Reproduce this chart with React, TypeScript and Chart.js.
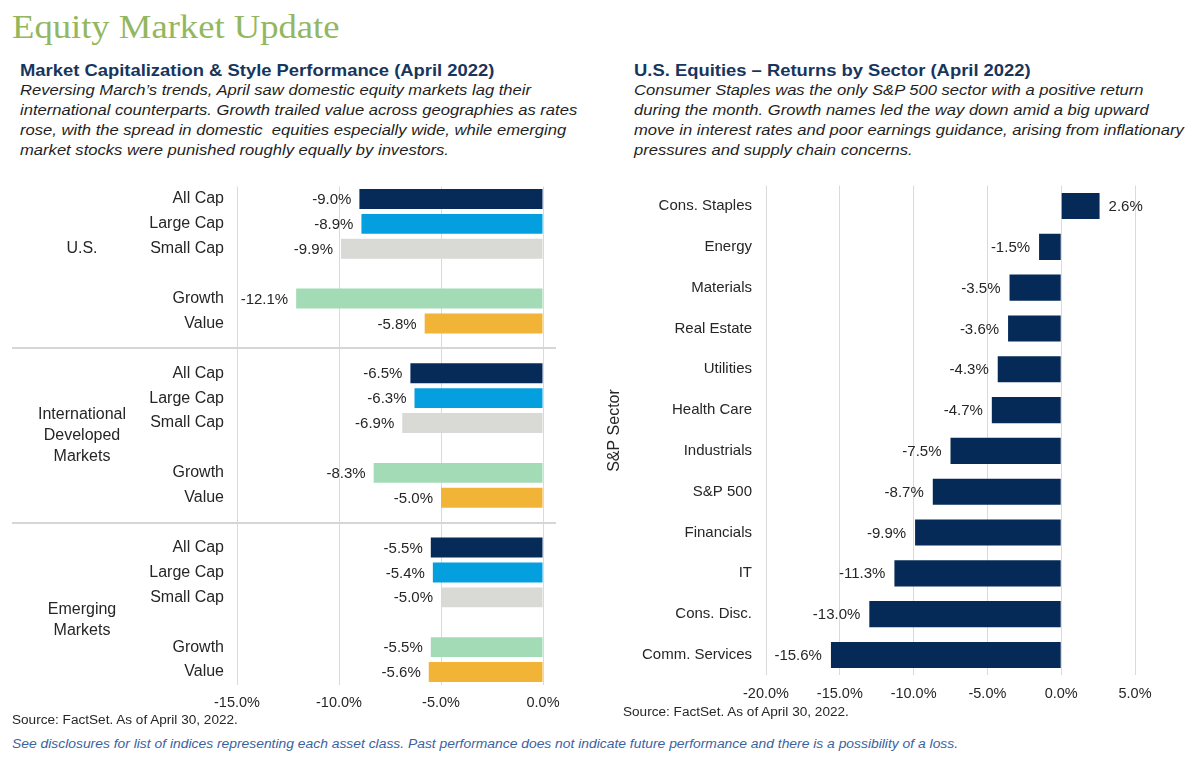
import React, { useEffect, useRef } from 'react';
import { Chart, registerables } from 'chart.js';

Chart.register(...registerables);

// ---------- Data ----------
const GROUP_NAMES = ['U.S.', 'International\nDeveloped\nMarkets', 'Emerging\nMarkets'];
const STYLE_NAMES = ['All Cap', 'Large Cap', 'Small Cap', 'Growth', 'Value'];
const US_VALUES = [-9.0, -8.9, -9.9, -12.1, -5.8];
const INTL_VALUES = [-6.5, -6.3, -6.9, -8.3, -5.0];
const EM_VALUES = [-5.5, -5.4, -5.0, -5.5, -5.6];
const STYLE_COLORS = ['#062b59', '#049fdf', '#d9d9d6', '#a2dbb5', '#f1b437'];
const LEFT_TICKS = [-15, -10, -5, 0];

const SECTORS = [
  'Cons. Staples', 'Energy', 'Materials', 'Real Estate', 'Utilities', 'Health Care',
  'Industrials', 'S&P 500', 'Financials', 'IT', 'Cons. Disc.', 'Comm. Services',
];
const SECTOR_VALUES = [2.6, -1.5, -3.5, -3.6, -4.3, -4.7, -7.5, -8.7, -9.9, -11.3, -13.0, -15.6];
const SECTOR_COLOR = '#062a57';
const RIGHT_TICKS = [-20, -15, -10, -5, 0, 5];

// ---------- Styling ----------
const SANS = '"Liberation Sans", Arial, Helvetica, sans-serif';
const GRID = '#dadada';
const TEXT = '#262626';
const GROUP_LABEL_OFFSET = [2, 2.5, 2.9];

// Build left chart rows
const leftLabels: string[] = [];
const leftData: (number | null)[] = [];
const leftColors: string[] = [];
const groupStarts: number[] = [];
const sepSlots: number[] = [];
[US_VALUES, INTL_VALUES, EM_VALUES].forEach((vals, g) => {
  if (g > 0) {
    sepSlots.push(leftLabels.length);
    leftLabels.push('');
    leftData.push(null);
    leftColors.push('rgba(0,0,0,0)');
  }
  groupStarts.push(leftLabels.length);
  STYLE_NAMES.forEach((name, i) => {
    if (i === 3) {
      leftLabels.push('');
      leftData.push(null);
      leftColors.push('rgba(0,0,0,0)');
    }
    leftLabels.push(name);
    leftData.push(vals[i]);
    leftColors.push(STYLE_COLORS[i]);
  });
});

const fmt = (v: number) => v.toFixed(1) + '%';

function makeValueLabelPlugin(gap: number) {
  return {
    id: 'valueLabels',
    afterDatasetsDraw(chart: any) {
      const ctx = chart.ctx;
      const meta = chart.getDatasetMeta(0);
      const data = chart.data.datasets[0].data;
      ctx.save();
      ctx.font = `15px ${SANS}`;
      ctx.fillStyle = TEXT;
      ctx.textBaseline = 'middle';
      meta.data.forEach((bar: any, i: number) => {
        const v = data[i];
        if (v === null || v === undefined) return;
        if (v < 0) {
          ctx.textAlign = 'right';
          ctx.fillText(fmt(v), bar.x - gap, bar.y + 1);
        } else {
          ctx.textAlign = 'left';
          ctx.fillText(fmt(v), bar.x + gap, bar.y + 1);
        }
      });
      ctx.restore();
    },
  };
}

const leftDecorPlugin = {
  id: 'leftDecor',
  afterDraw(chart: any) {
    const ctx = chart.ctx;
    const y = chart.scales.y;
    ctx.save();
    ctx.strokeStyle = '#d6d6d6';
    ctx.lineWidth = 2;
    sepSlots.forEach((s) => {
      const py = Math.round(y.getPixelForValue(s));
      ctx.beginPath();
      ctx.moveTo(12, py);
      ctx.lineTo(556, py);
      ctx.stroke();
    });
    ctx.font = `16px ${SANS}`;
    ctx.fillStyle = TEXT;
    ctx.textAlign = 'center';
    ctx.textBaseline = 'middle';
    GROUP_NAMES.forEach((name, g) => {
      const lines = name.split('\n');
      const cy = y.getPixelForValue(groupStarts[g] + GROUP_LABEL_OFFSET[g]);
      const lh = 21;
      lines.forEach((ln, k) => {
        ctx.fillText(ln, 82, cy + (k - (lines.length - 1) / 2) * lh);
      });
    });
    ctx.restore();
  },
};

const rightDecorPlugin = {
  id: 'rightDecor',
  afterDraw(chart: any) {
    const ctx = chart.ctx;
    const area = chart.chartArea;
    ctx.save();
    ctx.font = `16px ${SANS}`;
    ctx.fillStyle = TEXT;
    ctx.textAlign = 'center';
    ctx.textBaseline = 'middle';
    ctx.translate(15, (area.top + area.bottom) / 2);
    ctx.rotate(-Math.PI / 2);
    ctx.fillText('S&P Sector', 0, 0);
    ctx.restore();
  },
};

function useBarChart(
  ref: React.RefObject<HTMLCanvasElement | null>,
  build: () => any
) {
  useEffect(() => {
    if (!ref.current) return;
    const chart = new Chart(ref.current, build());
    return () => chart.destroy();
  }, []);
}

function LeftChart() {
  const ref = useRef<HTMLCanvasElement | null>(null);
  useBarChart(ref, () => ({
    type: 'bar',
    data: {
      labels: leftLabels,
      datasets: [
        {
          data: leftData,
          backgroundColor: leftColors,
          borderWidth: 0,
          barPercentage: 0.8,
          categoryPercentage: 1,
        },
      ],
    },
    options: {
      indexAxis: 'y',
      responsive: false,
      animation: false,
      layout: { padding: { top: 26.5, bottom: 5.5, left: 0, right: 57 } },
      plugins: { legend: { display: false }, tooltip: { enabled: false } },
      scales: {
        x: {
          min: LEFT_TICKS[0],
          max: LEFT_TICKS[LEFT_TICKS.length - 1],
          afterBuildTicks: (s: any) => {
            s.ticks = LEFT_TICKS.map((v) => ({ value: v }));
          },
          afterFit: (s: any) => {
            s.height = 30;
          },
          grid: { color: GRID, lineWidth: 1, drawTicks: false },
          border: { display: false },
          ticks: {
            padding: 10,
            color: TEXT,
            font: { family: SANS, size: 14.5 },
            callback: (v: any) => fmt(Number(v)),
            maxRotation: 0,
          },
        },
        y: {
          afterFit: (s: any) => {
            s.width = 237;
          },
          grid: { display: false, drawTicks: false },
          border: { display: false },
          ticks: {
            autoSkip: false,
            padding: 13,
            color: TEXT,
            font: { family: SANS, size: 16 },
          },
        },
      },
    },
    plugins: [makeValueLabelPlugin(8), leftDecorPlugin],
  }));
  return (
    <canvas
      ref={ref}
      width={600}
      height={560}
      style={{ position: 'absolute', left: 0, top: 160, width: 600, height: 560 }}
    />
  );
}

function RightChart() {
  const ref = useRef<HTMLCanvasElement | null>(null);
  useBarChart(ref, () => ({
    type: 'bar',
    data: {
      labels: SECTORS,
      datasets: [
        {
          data: SECTOR_VALUES,
          backgroundColor: SECTOR_COLOR,
          borderWidth: 0,
          barPercentage: 0.64,
          categoryPercentage: 1,
        },
      ],
    },
    options: {
      indexAxis: 'y',
      responsive: false,
      animation: false,
      layout: { padding: { top: 25.6, bottom: 14.6, left: 0, right: 65 } },
      plugins: { legend: { display: false }, tooltip: { enabled: false } },
      scales: {
        x: {
          min: RIGHT_TICKS[0],
          max: RIGHT_TICKS[RIGHT_TICKS.length - 1],
          afterBuildTicks: (s: any) => {
            s.ticks = RIGHT_TICKS.map((v) => ({ value: v }));
          },
          afterFit: (s: any) => {
            s.height = 30;
          },
          grid: { color: GRID, lineWidth: 1, drawTicks: false },
          border: { display: false },
          ticks: {
            padding: 10,
            color: TEXT,
            font: { family: SANS, size: 14.5 },
            callback: (v: any) => fmt(Number(v)),
            maxRotation: 0,
          },
        },
        y: {
          afterFit: (s: any) => {
            s.width = 166;
          },
          grid: { display: false, drawTicks: false },
          border: { display: false },
          ticks: {
            autoSkip: false,
            padding: 14,
            color: TEXT,
            font: { family: SANS, size: 15 },
          },
        },
      },
    },
    plugins: [makeValueLabelPlugin(9), rightDecorPlugin],
  }));
  return (
    <canvas
      ref={ref}
      width={600}
      height={560}
      style={{ position: 'absolute', left: 600, top: 160, width: 600, height: 560 }}
    />
  );
}

const abs = (
  left: number,
  top: number,
  sx: number,
  extra: React.CSSProperties = {}
): React.CSSProperties => ({
  position: 'absolute',
  left,
  top,
  margin: 0,
  whiteSpace: 'nowrap',
  transform: `scaleX(${sx})`,
  transformOrigin: '0 0',
  ...extra,
});

const bodyText: React.CSSProperties = {
  fontFamily: SANS,
  fontStyle: 'italic',
  fontSize: 15.3,
  lineHeight: '20px',
  color: '#1f1f1f',
};

const headText: React.CSSProperties = {
  fontFamily: SANS,
  fontWeight: 'bold',
  fontSize: 16.5,
  lineHeight: '20px',
  color: '#17365d',
};

export default function App() {
  return (
    <div
      style={{
        position: 'absolute',
        left: 0,
        top: 0,
        width: 1200,
        height: 760,
        background: '#ffffff',
        overflow: 'hidden',
      }}
    >
      <div
        style={abs(12, 7, 1.11, {
          fontFamily: '"Liberation Serif", "Times New Roman", serif',
          fontSize: 33,
          lineHeight: '40px',
          color: '#93b760',
        })}
      >
        Equity Market Update
      </div>

      <div style={abs(20, 60, 1.115, headText)}>Market Capitalization &amp; Style Performance (April 2022)</div>
      <div style={abs(20, 80, 1.085, bodyText)}>
        Reversing March’s trends, April saw domestic equity markets lag their
        <br />
        international counterparts. Growth trailed value across geographies as rates
        <br />
        rose, with the spread in domestic&nbsp; equities especially wide, while emerging
        <br />
        market stocks were punished roughly equally by investors.
      </div>

      <div style={abs(634, 60, 1.115, headText)}>U.S. Equities – Returns by Sector (April 2022)</div>
      <div style={abs(634, 80, 1.085, bodyText)}>
        Consumer Staples was the only S&amp;P 500 sector with a positive return
        <br />
        during the month. Growth names led the way down amid a big upward
        <br />
        move in interest rates and poor earnings guidance, arising from inflationary
        <br />
        pressures and supply chain concerns.
      </div>

      <LeftChart />
      <RightChart />

      <div style={abs(12, 712, 1.087, { fontFamily: SANS, fontSize: 12.5, lineHeight: '16px', color: '#262626' })}>
        Source: FactSet. As of April 30, 2022.
      </div>
      <div style={abs(623, 704, 1.087, { fontFamily: SANS, fontSize: 12.5, lineHeight: '16px', color: '#262626' })}>
        Source: FactSet. As of April 30, 2022.
      </div>
      <div
        style={abs(12, 736, 1.155, {
          fontFamily: SANS,
          fontStyle: 'italic',
          fontSize: 12,
          lineHeight: '16px',
          color: '#3b62a0',
        })}
      >
        See disclosures for list of indices representing each asset class. Past performance does not indicate future performance and there is a possibility of a loss.
      </div>
    </div>
  );
}
